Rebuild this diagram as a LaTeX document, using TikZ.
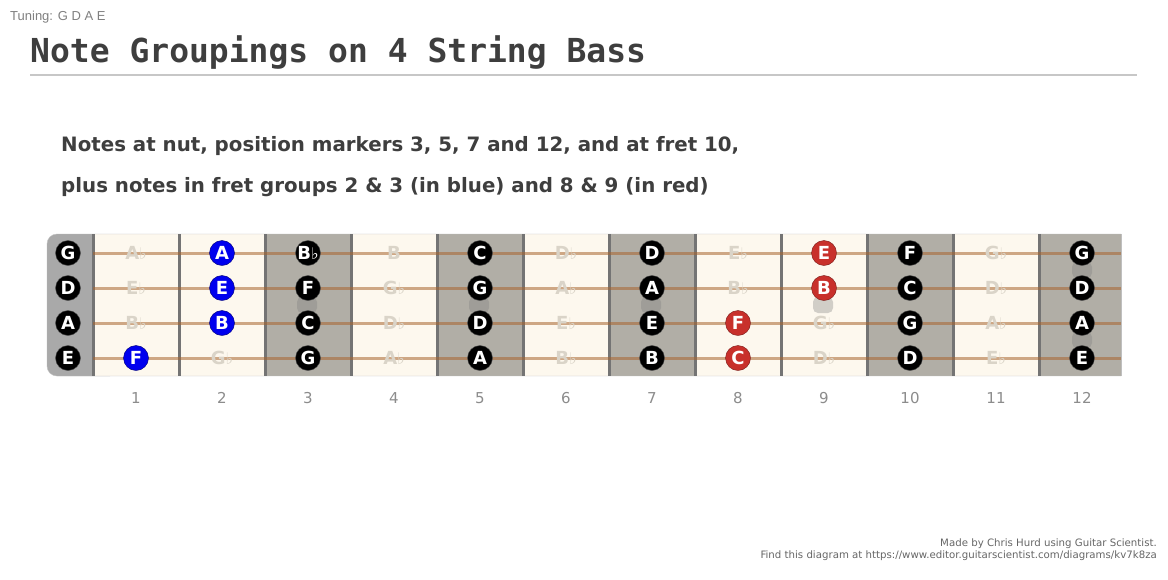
\documentclass[tikz,border=0pt]{standalone}
\usepackage{fontspec}
\setmainfont{DejaVu Sans}
\newfontfamily\titlefont{DejaVu Sans Mono}
\newfontfamily\arialfont{Liberation Sans}
\definecolor{ink}{HTML}{3E3E3E}
\definecolor{cream}{HTML}{FDF8EE}
\definecolor{fretshade}{HTML}{B1AEA6}
\definecolor{nutgrey}{HTML}{A9A9A9}
\definecolor{fretline}{HTML}{747474}
\definecolor{stringcol}{HTML}{A8652E}
\definecolor{ghosttext}{HTML}{DAD4C8}
\definecolor{bluenote}{HTML}{0000EE}
\definecolor{rednote}{HTML}{C8302B}
\newcommand{\flatmark}{{\fontsize{16}{16}\selectfont ♭}}

\begin{document}
\begin{tikzpicture}[x=1pt,y=-1pt,
  note/.style={circle, fill=black, draw=black!70, minimum size=25pt, inner sep=0pt, text=white, font=\fontsize{18}{18}\selectfont\bfseries},
  bluenote/.style={note, fill=bluenote, draw=blue!45!black},
  rednote/.style={note, fill=rednote, draw=rednote!60!black},
  ghost/.style={text=ghosttext, inner sep=0pt, font=\fontsize{18}{18}\selectfont\bfseries},
  marker/.style={fill=black!50, opacity=0.35, rounded corners=5pt},
  fret/.style={fretline, line width=3pt},
  stringline/.style={stringcol, opacity=0.55, line width=3pt},
  fretnum/.style={text=black!45, font=\fontsize{15}{15}\selectfont},
]
\fill[white] (0,0) rectangle (1168,579);
\useasboundingbox (0,0) rectangle (1168,579);

% headings
\node[anchor=base west, inner sep=0pt, text=black!50, font=\arialfont\fontsize{13}{13}\selectfont] (tuning) at (10,20) {Tuning: G D A E};
\node[anchor=base west, inner sep=0pt, text=ink, font=\titlefont\fontsize{33}{33}\selectfont\bfseries] (title) at (30,62) {Note Groupings on 4 String Bass};
\draw[black!22, line width=2pt] (30,75) -- (1137,75);
\node[anchor=base west, inner sep=0pt, text=ink, font=\fontsize{19.8}{20}\selectfont\bfseries] (line1) at (61,151) {Notes at nut, position markers 3, 5, 7 and 12, and at fret 10,};
\node[anchor=base west, inner sep=0pt, text=ink, font=\fontsize{19.8}{20}\selectfont\bfseries] (line2) at (61,192) {plus notes in fret groups 2 \& 3 (in blue) and 8 \& 9 (in red)};

% fretboard
\fill[nutgrey, rounded corners=10pt] (47,234) rectangle (120,376);
\fill[cream] (93,234) rectangle (1121,376);
\foreach \f in {3,5,7,10,12}
  \fill[fretshade] ({7+86*\f},234) rectangle ({min(93+86*\f,1121)},376);
\draw[black!25, rounded corners=10pt] (1121,234) -- (47,234) -- (47,376) -- (1121,376);
\draw[black!25] (1121,234) -- (1121,376);
\foreach \x/\y in {307/305,479/305,651/305,823/305,1082/270,1082/340}
  \fill[marker] ({\x-10},{\y-8}) rectangle ({\x+10},{\y+8});
\foreach \f in {0,...,11}
  \draw[fret] ({93+86*\f},234) -- ({93+86*\f},376);
\foreach \y in {253,288,323,358}
  \draw[stringline] (93,\y) -- (1121,\y);

% nut
\node[note] (G0) at (68,253) {G};
\node[note] (D0) at (68,288) {D};
\node[note] (A0) at (68,323) {A};
\node[note] (E0) at (68,358) {E};
% fret 1
\node[ghost] (G1) at (136,253) {A\flatmark};
\node[ghost] (D1) at (136,288) {E\flatmark};
\node[ghost] (A1) at (136,323) {B\flatmark};
\node[bluenote] (E1) at (136,358) {F};
% fret 2
\node[bluenote] (G2) at (222,253) {A};
\node[bluenote] (D2) at (222,288) {E};
\node[bluenote] (A2) at (222,323) {B};
\node[ghost] (E2) at (222,358) {G\flatmark};
% fret 3
\node[note] (G3) at (308,253) {B\flatmark};
\node[note] (D3) at (308,288) {F};
\node[note] (A3) at (308,323) {C};
\node[note] (E3) at (308,358) {G};
% fret 4
\node[ghost] (G4) at (394,253) {B};
\node[ghost] (D4) at (394,288) {G\flatmark};
\node[ghost] (A4) at (394,323) {D\flatmark};
\node[ghost] (E4) at (394,358) {A\flatmark};
% fret 5
\node[note] (G5) at (480,253) {C};
\node[note] (D5) at (480,288) {G};
\node[note] (A5) at (480,323) {D};
\node[note] (E5) at (480,358) {A};
% fret 6
\node[ghost] (G6) at (566,253) {D\flatmark};
\node[ghost] (D6) at (566,288) {A\flatmark};
\node[ghost] (A6) at (566,323) {E\flatmark};
\node[ghost] (E6) at (566,358) {B\flatmark};
% fret 7
\node[note] (G7) at (652,253) {D};
\node[note] (D7) at (652,288) {A};
\node[note] (A7) at (652,323) {E};
\node[note] (E7) at (652,358) {B};
% fret 8
\node[ghost] (G8) at (738,253) {E\flatmark};
\node[ghost] (D8) at (738,288) {B\flatmark};
\node[rednote] (A8) at (738,323) {F};
\node[rednote] (E8) at (738,358) {C};
% fret 9
\node[rednote] (G9) at (824,253) {E};
\node[rednote] (D9) at (824,288) {B};
\node[ghost] (A9) at (824,323) {G\flatmark};
\node[ghost] (E9) at (824,358) {D\flatmark};
% fret 10
\node[note] (G10) at (910,253) {F};
\node[note] (D10) at (910,288) {C};
\node[note] (A10) at (910,323) {G};
\node[note] (E10) at (910,358) {D};
% fret 11
\node[ghost] (G11) at (996,253) {G\flatmark};
\node[ghost] (D11) at (996,288) {D\flatmark};
\node[ghost] (A11) at (996,323) {A\flatmark};
\node[ghost] (E11) at (996,358) {E\flatmark};
% fret 12
\node[note] (G12) at (1082,253) {G};
\node[note] (D12) at (1082,288) {D};
\node[note] (A12) at (1082,323) {A};
\node[note] (E12) at (1082,358) {E};

% fret numbers
\foreach \f in {1,...,12}
  \node[fretnum] (n\f) at ({50+86*\f},398) {\f};

% footer
\node[anchor=base east, inner sep=0pt, align=right, text=black!60, font=\fontsize{10.2}{11.5}\selectfont] (credit) at (1157,558) {Made by Chris Hurd using Guitar Scientist.\\Find this diagram at https://www.editor.guitarscientist.com/diagrams/kv7k8za};
\end{tikzpicture}
\end{document}
